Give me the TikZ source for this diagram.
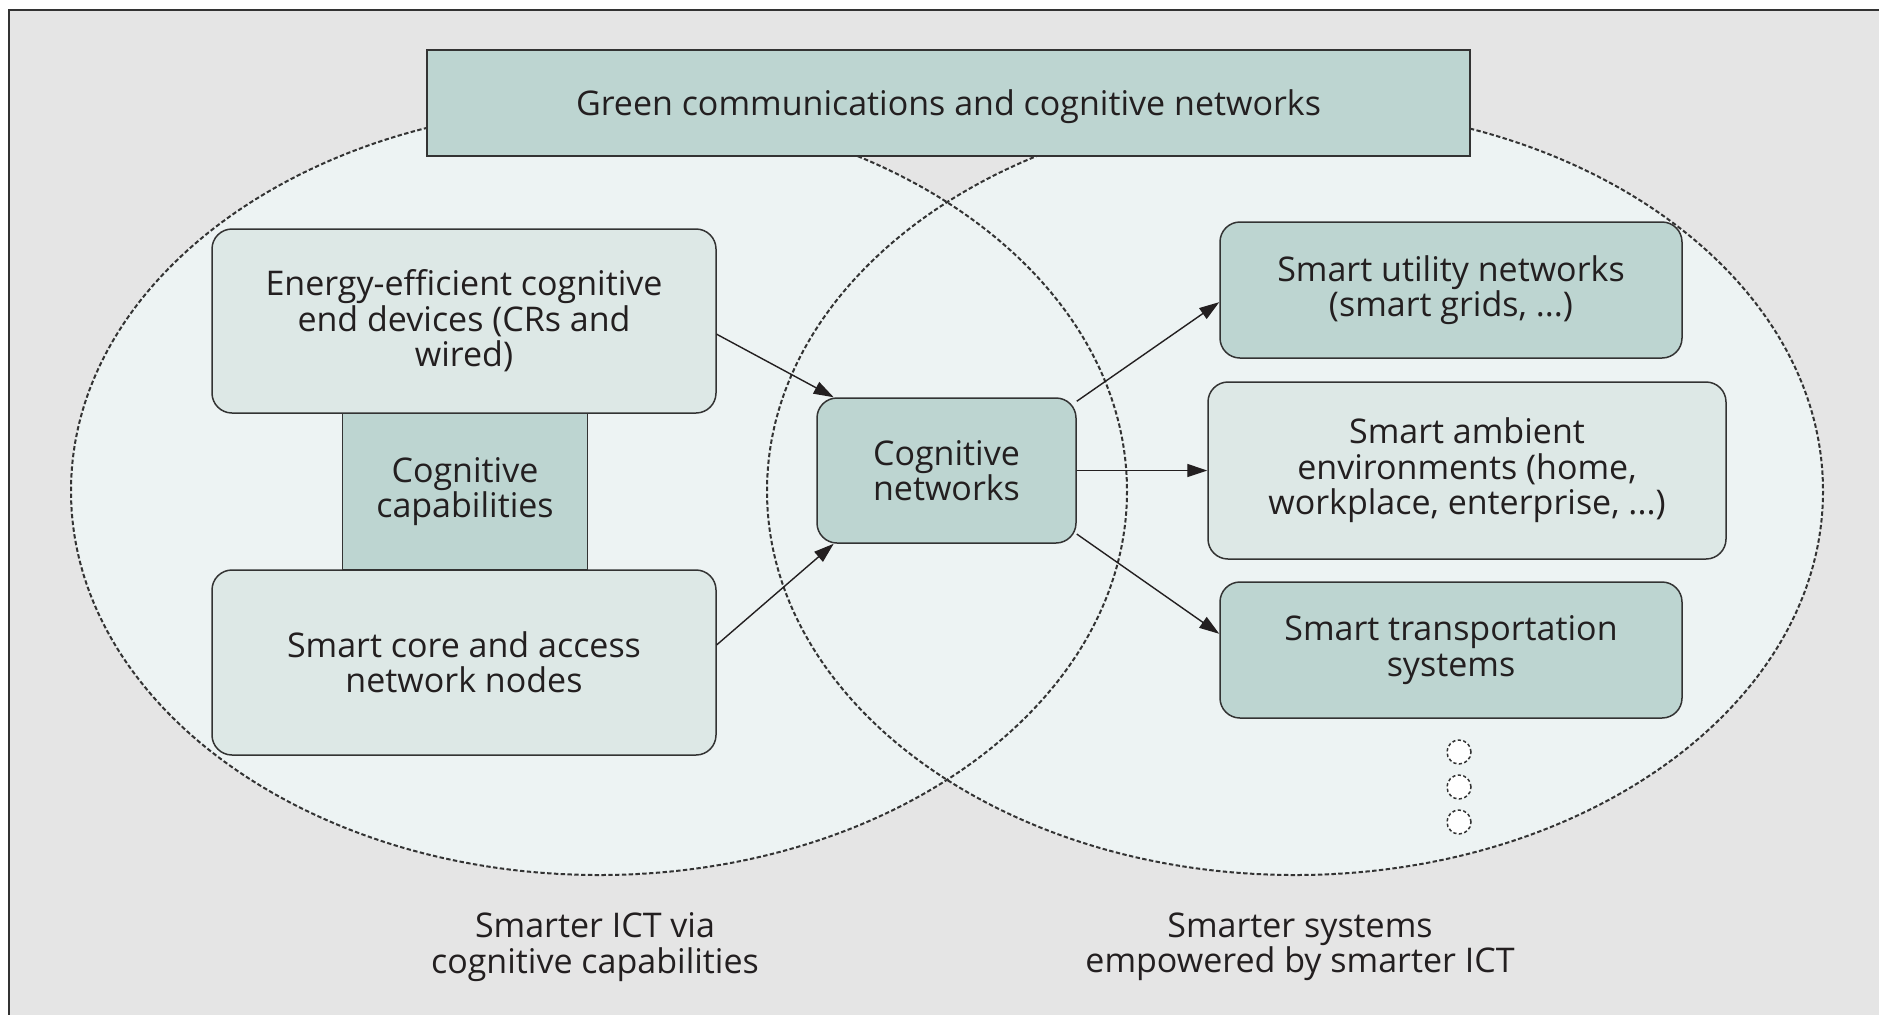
\documentclass[tikz,border=0pt]{standalone}
\usepackage{fontspec}
\setmainfont{Open Sans}
\usetikzlibrary{arrows.meta}

\definecolor{bggray}{HTML}{E5E5E5}
\definecolor{venn}{HTML}{EDF3F3}
\definecolor{tealdark}{HTML}{BDD5D1}
\definecolor{teallight}{HTML}{DDE8E6}
\definecolor{edge}{HTML}{333333}
\definecolor{ink}{HTML}{231F20}

\tikzset{
  box/.style={draw=edge, line width=0.75pt, align=center, text=ink, inner sep=0pt,
    font=\fontsize{17}{17.7}\selectfont},
  darkbox/.style={box, fill=tealdark, rounded corners=10pt},
  lightbox/.style={box, fill=teallight, rounded corners=10pt},
  flatbox/.style={box, fill=tealdark},
  ellipseline/.style={draw=edge, line width=1pt, dash pattern=on 2.2pt off 1.2pt},
  moredots/.style={circle, draw=edge, fill=white, line width=0.75pt,
    dash pattern=on 1.6pt off 1.2pt, minimum size=12pt, inner sep=0pt},
  venntext/.style={align=center, text=ink, font=\fontsize{17}{17.7}\selectfont},
  link/.style={->, draw=ink, line width=0.7pt}
}

\begin{document}
\begin{tikzpicture}[x=0.5pt, y=-0.5pt, >={Stealth[length=10pt,width=6.5pt,inset=0pt]}]
  \useasboundingbox (0,0) rectangle (1879,1014);
  \clip (0,0) rectangle (1879,1014);
  % --- frame ---
  \draw[fill=bggray, draw=edge, line width=1pt] (9,10) rectangle (1900,1040);
  % --- the two overlapping regions ---
  \fill[venn] (599,491) ellipse [x radius=528, y radius=384];
  \fill[venn] (1295,491) ellipse [x radius=528, y radius=384];
  \draw[ellipseline] (599,491) ellipse [x radius=528, y radius=384];
  \draw[ellipseline] (1295,491) ellipse [x radius=528, y radius=384];

  % --- title ---
  \node[flatbox, text depth=0pt, minimum width=521.5pt, minimum height=53pt] (green) at (948.5,103)
    {Green communications and cognitive networks};

  % --- left side ---
  \node[flatbox, minimum width=122.5pt, minimum height=78.5pt] (capab) at (465,491.5)
    {Cognitive\\capabilities};
  \node[lightbox, minimum width=252pt, minimum height=92pt] (devices) at (464,321)
    {Energy-efficient cognitive\\end devices (CRs and\\wired)};
  \node[lightbox, minimum width=252pt, minimum height=92.5pt] (core) at (464,662.5)
    {Smart core and access\\network nodes};

  % --- middle ---
  \node[darkbox, minimum width=129.5pt, minimum height=72.5pt] (cognet) at (946.5,470.5)
    {Cognitive\\networks};

  % --- right side ---
  \node[darkbox, minimum width=231pt, minimum height=68pt] (utility) at (1451,290)
    {Smart utility networks\\(smart grids, ...)};
  \node[lightbox, minimum width=259pt, minimum height=88.5pt] (ambient) at (1467,470.5)
    {Smart ambient\\environments (home,\\workplace, enterprise, ...)};
  \node[darkbox, minimum width=231pt, minimum height=68pt] (transport) at (1451,650)
    {Smart transportation\\systems};
  \node[moredots] (dotA) at (1459,752) {};
  \node[moredots] (dotB) at (1459,787) {};
  \node[moredots] (dotC) at (1459,822) {};

  % --- arrows ---
  \draw[link] (devices.357) -- (cognet.147);
  \draw[link] (core.4) -- (cognet.213);
  \draw[link] (cognet.28) -- (utility.183);
  \draw[link] (cognet.east) -- (ambient.west);
  \draw[link] (cognet.334) -- (transport.176);

  % --- captions ---
  \node[venntext] (ictlabel) at (595,947) {Smarter ICT via\\cognitive capabilities};
  \node[venntext] (syslabel) at (1300,947) {Smarter systems\\empowered by smarter ICT};
\end{tikzpicture}
\end{document}
